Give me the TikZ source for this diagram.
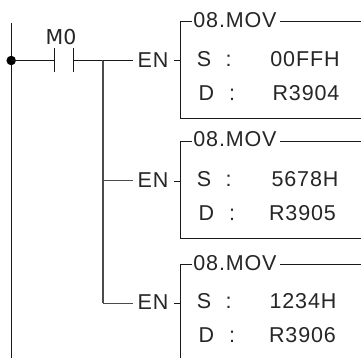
\documentclass[tikz,border=0pt]{standalone}
\usepackage{fontspec}
\setmainfont[LetterSpace=4]{Liberation Sans}
\newfontfamily\mzero{DejaVu Sans}
\begin{document}
\begin{tikzpicture}[x=1pt,y=-1pt,
  wire/.style={line width=1pt,black!90},
  lab/.style={inner sep=0pt,text height=15pt,text depth=0pt,font=\fontsize{21.5}{21.5}\selectfont,text=black!85},
  rung/.style={wire,black!70,line width=1.1pt}]
\useasboundingbox (0,0) rectangle (361,358);
\fill[white] (0,0) rectangle (361,358);
% power rail
\coordinate (railtop) at (11.5,23);
\coordinate (railend) at (11.5,358);
\draw[wire] (railtop) -- (railend);
\node[circle,fill=black,inner sep=0pt,minimum size=9.5pt] (dot) at (11.2,60.5) {};
% contact
\coordinate (c1t) at (54.5,48); \coordinate (c1b) at (54.5,72.5); \coordinate (c1m) at (54.5,60.5);
\coordinate (c2t) at (73.3,48); \coordinate (c2b) at (73.3,72.5); \coordinate (c2m) at (73.3,60.5);
\draw[wire] (c1t) -- (c1b);
\draw[wire] (c2t) -- (c2b);
\draw[wire] (dot.center) -- (c1m);
\node[lab,font=\mzero\fontsize{20.5}{20.5}\selectfont] (m0) at (61,37.5) {M0};
% branches
\coordinate (j1) at (103,60.5);
\coordinate (j2) at (103,180.5);
\coordinate (j3) at (103,303.3);
\draw[wire] (c2m) -- (j1);
\draw[rung] (j1) -- (j3);
% EN labels
\node[lab] (en1) at (153,59.7) {EN};
\node[lab] (en2) at (153,179.5) {EN};
\node[lab] (en3) at (153,302.3) {EN};
\draw[wire] (j1) -- (133,60.5);
\draw[rung] (j2) -- (133,180.5);
\draw[rung] (j3) -- (133,303.3);
\coordinate (t1a) at (174,60.5); \coordinate (t1b) at (180.5,60.5);
\coordinate (t2a) at (174,181.5); \coordinate (t2b) at (180.5,181.5);
\coordinate (t3a) at (174,303.3); \coordinate (t3b) at (180.5,303.3);
\draw[wire] (t1a) -- (t1b);
\draw[wire] (t2a) -- (t2b);
\draw[wire] (t3a) -- (t3b);
% box 1
\node[lab] (h1) at (235,20) {08.MOV};
\draw[wire] (192,21.5) -- (180.5,21.5) -- (180.5,118.3) -- (361,118.3);
\draw[wire] (280,21.5) -- (361,21.5);
\node[lab] (s1) at (204,59) {S};
\node[lab] (sc1) at (228.5,59) {:};
\node[lab] (sv1) at (305,59) {00FFH};
\node[lab] (d1) at (206.5,93) {D};
\node[lab] (dc1) at (232,93) {:};
\node[lab] (dv1) at (306,93) {R3904};
% box 2
\node[lab] (h2) at (235,139.5) {08.MOV};
\draw[wire] (192,141.5) -- (180.5,141.5) -- (180.5,238.5) -- (361,238.5);
\draw[wire] (280,141.5) -- (361,141.5);
\node[lab] (s2) at (204,178.5) {S};
\node[lab] (sc2) at (228.5,178.5) {:};
\node[lab] (sv2) at (305,178.5) {5678H};
\node[lab] (d2) at (206.5,213) {D};
\node[lab] (dc2) at (232,213) {:};
\node[lab] (dv2) at (302.5,213) {R3905};
% box 3
\node[lab] (h3) at (235,263) {08.MOV};
\draw[wire] (192,264) -- (180.5,264) -- (180.5,358);
\draw[wire] (280,264) -- (361,264);
\node[lab] (s3) at (204,301) {S};
\node[lab] (sc3) at (228.5,301) {:};
\node[lab] (sv3) at (303,301) {1234H};
\node[lab] (d3) at (206.5,334.5) {D};
\node[lab] (dc3) at (232,334.5) {:};
\node[lab] (dv3) at (302.5,334.5) {R3906};
\end{tikzpicture}
\end{document}
